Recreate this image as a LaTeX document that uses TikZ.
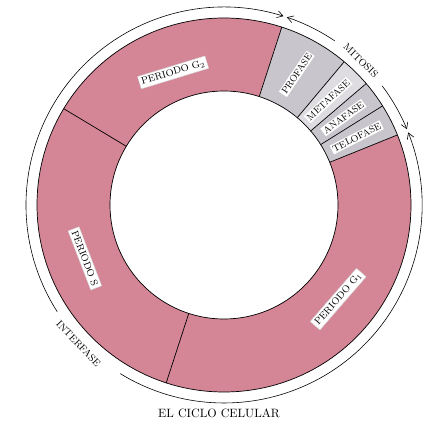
\documentclass[tikz,border=0pt]{standalone}
\usetikzlibrary{arrows.meta}

\definecolor{ringpink}{RGB}{212,133,150}
\definecolor{phasegray}{RGB}{201,197,205}
\definecolor{phaselight}{RGB}{222,219,225}

\begin{document}
\begin{tikzpicture}[scale=0.03, >={Straight Barb[length=5pt,width=6pt]},
  phasebox/.style={fill=white, inner sep=1.2pt, font=\fontsize{8}{9}\selectfont},
  periodbox/.style={fill=white, draw=gray!35, inner sep=2pt, font=\fontsize{8.3}{9}\selectfont},
  arclabel/.style={font=\fontsize{8.5}{9}\selectfont}]
  \useasboundingbox (-224,-218) rectangle (202,205);

  % ring sectors
  \foreach \a/\b/\c in {72/149/ringpink, 149/252/ringpink, -108/22/ringpink,
                        22/32/phasegray, 32/40.5/phasegray, 40.5/50/phaselight, 50/72/phasegray}
    \fill[\c] (\a:114) arc[start angle=\a, end angle=\b, radius=114]
      -- (\b:187) arc[start angle=\b, end angle=\a, radius=187] -- cycle;

  % ring outlines
  \draw[line width=0.6pt] (0,0) circle[radius=187];
  \draw[line width=0.6pt] (0,0) circle[radius=114];
  \foreach \a in {149,252,22,32,40.5,50,72}
    \draw[line width=0.6pt] (\a:114) -- (\a:187);

  % period labels
  \node[periodbox, rotate=17] (g2) at (111:142) {PERIODO G$_2$};
  \node[periodbox, rotate=-69] (s) at (201:149) {PERIODO S};
  \node[periodbox, rotate=49] (g1) at (-39.5:148) {PERIODO G$_1$};

  % mitosis phases
  \node[phasebox, rotate=56] (pro) at (61:150) {PROFASE};
  \node[phasebox, rotate=43] (meta) at (45.2:148) {METAFASE};
  \node[phasebox, rotate=36] (ana) at (36.2:148) {ANAFASE};
  \node[phasebox, rotate=27] (telo) at (27:149) {TELOFASE};

  % mitosis arc
  \draw[<-, line width=0.5pt] (71.5:198) arc[start angle=71.5, end angle=56, radius=198];
  \draw[->, line width=0.5pt] (37:198) arc[start angle=37, end angle=22.5, radius=198];
  \node[arclabel, rotate=-44] (mit) at (46.5:199) {MITOSIS};

  % interfase arc
  \draw[<-, line width=0.5pt] (21.5:198) arc[start angle=21.5, end angle=-121.6, radius=198];
  \draw[->, line width=0.5pt] (-147.4:198) arc[start angle=-147.4, end angle=-287.5, radius=198];
  \node[arclabel, rotate=-46.4] (inter) at (223.6:201) {INTERFASE};

  % caption
  \node[font=\fontsize{10.3}{12}\selectfont] (caption) at (-5,-208) {EL CICLO CELULAR};
\end{tikzpicture}
\end{document}
